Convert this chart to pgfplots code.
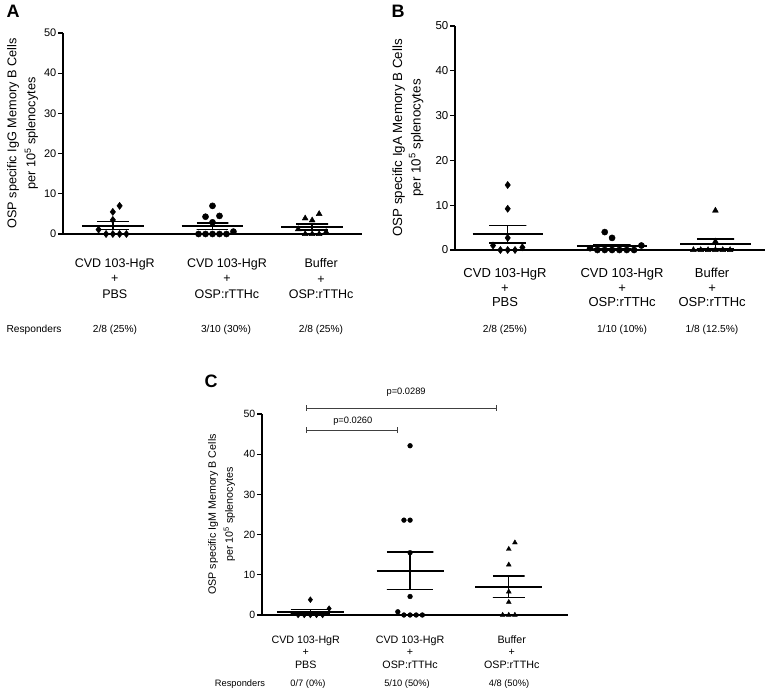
\documentclass[border=0pt]{standalone}
\usepackage{pgfplots}
\pgfplotsset{compat=1.18}
\usepackage{fontspec}
\setmainfont{Liberation Sans}
\newcommand{\fs}[1]{\fontsize{#1}{#1}\selectfont}
\begin{document}
\begin{tikzpicture}
\path[use as bounding box] (0pt,0pt) rectangle (770pt,691pt);
\pgfplotsset{
  dotplot/.style={
    scale only axis,
    axis x line=bottom, axis y line=left,
    axis line style={-, line width=1.4pt, black},
    xmin=0.5, ymin=0, ymax=50,
    ytick={0,10,20,30,40,50},
    xtick style={draw=none},
    ytick style={line width=1.2pt, black},
    xtick align=inside, ytick align=outside,
    major tick length=5pt,
    clip=false,
    /pgf/number format/assume math mode=true,
    yticklabel style={inner sep=1.5pt},
    xticklabel style={align=center},
    ylabel style={anchor=center, align=center},
  },
  meanl/.style={black, line width=2pt, mark=none, forget plot},
  semln/.style={black, line width=1.4pt, mark=none, forget plot, line join=miter},
  pts/.style={only marks, black, mark=#1},
}
% ---------------- Panel A ----------------
\begin{axis}[dotplot, at={(63pt,457pt)}, anchor=south west,
  width=299pt, height=201pt, xmax=3.5,
  tick label style={font=\fs{11}},
  xticklabel style={font=\fontsize{12.5}{15.5}\selectfont, yshift=-21pt},
  xtick={1.02,2.145,3.09},
  xticklabels={{CVD 103-HgR\\+\\PBS},{CVD 103-HgR\\+\\OSP:rTTHc},{Buffer\\+\\OSP:rTTHc}},
  ylabel={OSP specific IgG Memory B Cells\\per 10\textsuperscript{5} splenocytes},
  ylabel style={at={(axis description cs:-0.1355,0.5)}, font=\fontsize{12.7}{19}\selectfont},
]
\addplot[pts={diamond*}, mark size=3.6pt] coordinates {(1.068,7.0) (1,5.5) (1,3.5) (0.857,1.1) (0.932,0) (1,0) (1.068,0) (1.136,0)};
\addplot[pts=*, mark size=3.1pt] coordinates {(2,7.0) (1.93,4.3) (2.07,4.5) (2,2.9) (1.86,0) (1.93,0) (2,0) (2.07,0) (2.14,0) (2.21,0.6)};
\addplot[pts={triangle*}, mark size=3.4pt] coordinates {(2.93,3.9) (3,3.4) (3.07,5.0) (2.86,1.2) (2.93,0) (3,0) (3.07,0) (3.14,0.5)};
\addplot[meanl] coordinates {(0.69,2.1) (1.31,2.1)};
\addplot[meanl] coordinates {(1.69,1.93) (2.31,1.93)};
\addplot[meanl] coordinates {(2.69,1.75) (3.31,1.75)};
\addplot[semln] coordinates {(0.84,3.12) (1.16,3.12) (1,3.12) (1,1.08) (0.84,1.08) (1.16,1.08)};
\addplot[semln] coordinates {(1.84,2.78) (2.16,2.78) (2,2.78) (2,1.08) (1.84,1.08) (2.16,1.08)};
\addplot[semln] coordinates {(2.84,2.47) (3.16,2.47) (3,2.47) (3,1.03) (2.84,1.03) (3.16,1.03)};
\end{axis}
% ---------------- Panel B ----------------
\begin{axis}[dotplot, at={(455pt,441pt)}, anchor=south west,
  width=310pt, height=224pt, xmax=3.5,
  tick label style={font=\fs{11.5}},
  xticklabel style={font=\fontsize{13}{14.5}\selectfont, yshift=-15pt},
  xtick={0.984,2.117,2.988},
  xticklabels={{CVD 103-HgR\\+\\PBS},{CVD 103-HgR\\+\\OSP:rTTHc},{Buffer\\+\\OSP:rTTHc}},
  ylabel={OSP specific IgA Memory B Cells\\per 10\textsuperscript{5} splenocytes},
  ylabel style={at={(axis description cs:-0.1516,0.5)}, font=\fontsize{13.3}{18.5}\selectfont},
]
\addplot[pts={diamond*}, mark size=3.6pt] coordinates {(1.01,14.5) (1.01,9.2) (1.01,2.7) (0.868,1.0) (1.152,0.6) (0.939,0) (1.01,0) (1.081,0)};
\addplot[pts=*, mark size=3.1pt] coordinates {(1.949,4.0) (2.02,2.7) (2.304,1.0) (1.807,0.4) (1.878,0) (1.949,0) (2.02,0) (2.091,0) (2.162,0) (2.233,0)};
\addplot[pts={triangle*}, mark size=3.4pt] coordinates {(3.02,8.8) (3.02,1.9) (2.807,0) (2.878,0) (2.949,0) (3.02,0) (3.091,0) (3.162,0)};
\addplot[meanl] coordinates {(0.67,3.5) (1.35,3.5)};
\addplot[meanl] coordinates {(1.68,0.81) (2.36,0.81)};
\addplot[meanl] coordinates {(2.68,1.34) (3.36,1.34)};
\addplot[semln] coordinates {(0.83,5.42) (1.19,5.42) (1.01,5.42) (1.01,1.58) (0.83,1.58) (1.19,1.58)};
\addplot[semln] coordinates {(1.84,1.26) (2.2,1.26) (2.02,1.26) (2.02,0.36) (1.84,0.36) (2.2,0.36)};
\addplot[semln] coordinates {(2.84,2.43) (3.2,2.43) (3.02,2.43) (3.02,0.25) (2.84,0.25) (3.2,0.25)};
\end{axis}
% ---------------- Panel C ----------------
\begin{axis}[dotplot, at={(262pt,76pt)}, anchor=south west,
  width=306pt, height=201pt, xmax=3.6,
  tick label style={font=\fs{10.5}},
  xticklabel style={font=\fontsize{10.7}{12.5}\selectfont, yshift=-17pt},
  xtick={0.943,2.0,3.03},
  xticklabels={{CVD 103-HgR\\+\\PBS},{CVD 103-HgR\\+\\OSP:rTTHc},{Buffer\\+\\OSP:rTTHc}},
  ylabel={OSP specific IgM Memory B Cells\\per 10\textsuperscript{5} splenocytes},
  ylabel style={at={(axis description cs:-0.132,0.5)}, font=\fontsize{10.7}{17}\selectfont},
]
\addplot[pts={diamond*}, mark size=2.9pt] coordinates {(0.99,3.8) (1.18,1.6) (0.866,0) (0.928,0) (0.99,0) (1.052,0) (1.114,0)};
\addplot[pts=*, mark size=2.4pt] coordinates {(2,42.1) (1.938,23.6) (2,23.6) (2,15.5) (2,4.6) (1.876,0.8) (1.938,0) (2,0) (2.062,0) (2.124,0)};
\addplot[pts={triangle*}, mark size=2.8pt] coordinates {(3.062,18.0) (3,16.4) (3,12.5) (3,5.8) (3,3.2) (2.938,0) (3,0) (3.062,0)};
\addplot[meanl] coordinates {(0.65,0.77) (1.33,0.77)};
\addplot[meanl] coordinates {(1.66,11.02) (2.34,11.02)};
\addplot[meanl] coordinates {(2.66,7.05) (3.34,7.05)};
\addplot[semln] coordinates {(0.79,1.32) (1.19,1.32) (0.99,1.32) (0.99,0.22) (0.79,0.22) (1.19,0.22)};
\addplot[semln] coordinates {(1.765,15.66) (2.235,15.66) (2,15.66) (2,6.38) (1.765,6.38) (2.235,6.38)};
\addplot[semln] coordinates {(2.84,9.75) (3.16,9.75) (3,9.75) (3,4.35) (2.84,4.35) (3.16,4.35)};
% significance bars
\draw[black!75, line width=0.9pt] (axis cs:0.955,46) -- (axis cs:1.875,46);
\draw[black!75, line width=0.9pt] ([yshift=-3pt]axis cs:0.955,46) -- ([yshift=3pt]axis cs:0.955,46);
\draw[black!75, line width=0.9pt] ([yshift=-3pt]axis cs:1.875,46) -- ([yshift=3pt]axis cs:1.875,46);
\node[font=\fs{9.3}] at (axis cs:1.42,48.2) {p=0.0260};
\draw[black!75, line width=0.9pt] (axis cs:0.955,51.5) -- (axis cs:2.88,51.5);
\draw[black!75, line width=0.9pt] ([yshift=-3pt]axis cs:0.955,51.5) -- ([yshift=3pt]axis cs:0.955,51.5);
\draw[black!75, line width=0.9pt] ([yshift=-3pt]axis cs:2.88,51.5) -- ([yshift=3pt]axis cs:2.88,51.5);
\node[font=\fs{9.3}] at (axis cs:1.96,55.5) {p=0.0289};
\end{axis}
% ---------------- Letters and responder rows ----------------
\node[font=\bfseries\fs{18}, anchor=base west] at (3pt,673pt) {A};
\node[font=\bfseries\fs{18}, anchor=base west] at (388pt,673pt) {B};
\node[font=\bfseries\fs{18}, anchor=base west] at (201pt,303pt) {C};
\begin{scope}[every node/.style={font=\fs{10.2}}]
\node[anchor=west] at (3pt,361pt) {Responders};
\node at (115pt,361pt) {2/8 (25\%)};
\node at (226pt,361pt) {3/10 (30\%)};
\node at (321pt,361pt) {2/8 (25\%)};
\node at (505pt,361pt) {2/8 (25\%)};
\node at (622pt,361pt) {1/10 (10\%)};
\node at (712pt,361pt) {1/8 (12.5\%)};
\end{scope}
\begin{scope}[every node/.style={font=\fs{9.3}}]
\node at (240pt,7pt) {Responders};
\node at (308pt,7pt) {0/7 (0\%)};
\node at (407pt,7pt) {5/10 (50\%)};
\node at (509pt,7pt) {4/8 (50\%)};
\end{scope}
\end{tikzpicture}
\end{document}
